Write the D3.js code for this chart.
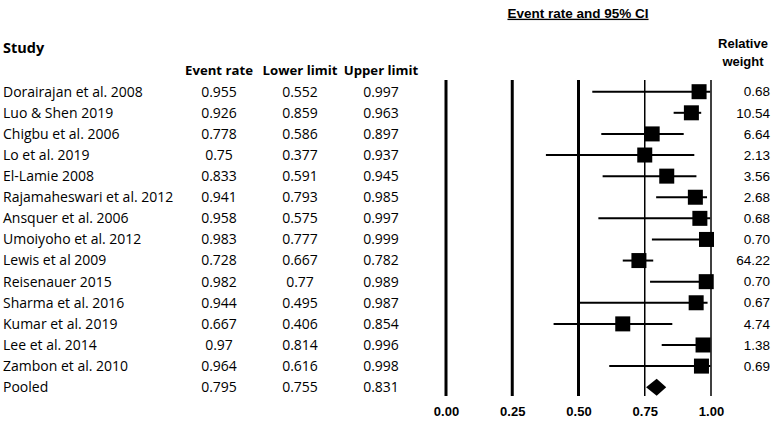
<!DOCTYPE html>
<html>
<head>
<meta charset="utf-8">
<script src="https://cdn.jsdelivr.net/npm/d3@7"></script>
<style>
  body { margin: 0; background: #fff; }
  svg { display: block; }
</style>
</head>
<body>
<div id="chart"></div>
<script>
var studies = ["Dorairajan et al. 2008", "Luo & Shen 2019", "Chigbu et al. 2006", "Lo et al. 2019",
  "El-Lamie 2008", "Rajamaheswari et al. 2012", "Ansquer et al. 2006", "Umoiyoho et al. 2012",
  "Lewis et al 2009", "Reisenauer 2015", "Sharma et al. 2016", "Kumar et al. 2019",
  "Lee et al. 2014", "Zambon et al. 2010", "Pooled"];
var eventRate  = ["0.955", "0.926", "0.778", "0.75", "0.833", "0.941", "0.958", "0.983", "0.728", "0.982", "0.944", "0.667", "0.97", "0.964", "0.795"];
var lowerLimit = ["0.552", "0.859", "0.586", "0.377", "0.591", "0.793", "0.575", "0.777", "0.667", "0.77", "0.495", "0.406", "0.814", "0.616", "0.755"];
var upperLimit = ["0.997", "0.963", "0.897", "0.937", "0.945", "0.985", "0.997", "0.999", "0.782", "0.989", "0.987", "0.854", "0.996", "0.998", "0.831"];
var relWeight  = ["0.68", "10.54", "6.64", "2.13", "3.56", "2.68", "0.68", "0.70", "64.22", "0.70", "0.67", "4.74", "1.38", "0.69", ""];
var ticks = [0, 0.25, 0.5, 0.75, 1];

var width = 777, height = 425;
var svg = d3.select("#chart").append("svg")
  .attr("width", width)
  .attr("height", height);

// rows share one y scale
var y = d3.scalePoint()
  .domain(d3.range(studies.length))
  .range([91.7, 387.2]);

var x = d3.scaleLinear()
  .domain([0, 1])
  .range([446, 711]);

var tableFont = "'Open Sans', 'Noto Sans', sans-serif";
var arial = "'Liberation Sans', Arial, sans-serif";

// left table headers
svg.append("text")
  .attr("x", 3).attr("y", 48)
  .attr("dy", "0.35em")
  .attr("font-family", tableFont)
  .attr("font-size", 14.5)
  .attr("font-weight", "bold")
  .text("Study");

var cols = [
  {label: "Event rate", x: 219, values: eventRate},
  {label: "Lower limit", x: 300, values: lowerLimit},
  {label: "Upper limit", x: 381, values: upperLimit}
];

cols.forEach(function(c) {
  svg.append("text")
    .attr("x", c.x).attr("y", 70)
    .attr("dy", "0.35em")
    .attr("text-anchor", "middle")
    .attr("font-family", tableFont)
    .attr("font-size", 13.2)
    .attr("font-weight", "bold")
    .text(c.label);

  svg.append("g").selectAll("text")
    .data(c.values)
    .enter().append("text")
      .attr("x", c.x)
      .attr("y", function(d, i) { return y(i); })
      .attr("dy", "0.35em")
      .attr("text-anchor", "middle")
      .attr("font-family", tableFont)
      .attr("font-size", 14)
      .text(function(d) { return d; });
});

// study names
svg.append("g").selectAll("text")
  .data(studies)
  .enter().append("text")
    .attr("x", 3)
    .attr("y", function(d, i) { return y(i); })
    .attr("dy", "0.35em")
    .attr("font-family", tableFont)
    .attr("font-size", 14)
    .text(function(d) { return d; });

// title over the plot
svg.append("text")
  .attr("x", 578).attr("y", 13)
  .attr("dy", "0.35em")
  .attr("text-anchor", "middle")
  .attr("font-family", arial)
  .attr("font-size", 13.5)
  .attr("font-weight", "bold")
  .attr("text-decoration", "underline")
  .text("Event rate and 95% CI");

// relative weight header
svg.append("text")
  .attr("x", 743).attr("y", 43)
  .attr("dy", "0.35em")
  .attr("text-anchor", "middle")
  .attr("font-family", arial)
  .attr("font-size", 13)
  .attr("font-weight", "bold")
  .text("Relative");
svg.append("text")
  .attr("x", 743).attr("y", 61)
  .attr("dy", "0.35em")
  .attr("text-anchor", "middle")
  .attr("font-family", arial)
  .attr("font-size", 13)
  .attr("font-weight", "bold")
  .text("weight");

svg.append("g").selectAll("text")
  .data(relWeight)
  .enter().append("text")
    .attr("x", 770)
    .attr("y", function(d, i) { return y(i); })
    .attr("dy", "0.35em")
    .attr("text-anchor", "end")
    .attr("font-family", arial)
    .attr("font-size", 13.5)
    .text(function(d) { return d; });

// vertical reference lines
svg.append("g").selectAll("line")
  .data(ticks)
  .enter().append("line")
    .attr("x1", function(d) { return x(d); })
    .attr("x2", function(d) { return x(d); })
    .attr("y1", 80)
    .attr("y2", 396)
    .attr("stroke", "#000")
    .attr("stroke-width", function(d) { return d < 0.75 ? 3 : 1.5; });

// axis labels
var xAxis = d3.axisBottom(x)
  .tickValues(ticks)
  .tickFormat(d3.format(".2f"))
  .tickSize(0)
  .tickPadding(0);

var ax = svg.append("g")
  .attr("transform", "translate(0,407)")
  .call(xAxis);
ax.select(".domain").remove();
ax.selectAll("text")
  .attr("font-family", arial)
  .attr("font-size", 13)
  .attr("font-weight", "bold")
  .attr("fill", "#000");

// study rows (everything but the pooled one)
var nStudies = studies.length - 1;
var rows = d3.range(nStudies);
var g = svg.append("g");

g.selectAll("line.ci")
  .data(rows)
  .enter().append("line")
    .attr("class", "ci")
    .attr("x1", function(i) { return x(+lowerLimit[i]); })
    .attr("x2", function(i) { return x(+upperLimit[i]); })
    .attr("y1", function(i) { return y(i); })
    .attr("y2", function(i) { return y(i); })
    .attr("stroke", "#000")
    .attr("stroke-width", 2);

var box = 15;
g.selectAll("rect")
  .data(rows)
  .enter().append("rect")
    .attr("x", function(i) { return x(+eventRate[i]) - box / 2; })
    .attr("y", function(i) { return y(i) - box / 2; })
    .attr("width", box)
    .attr("height", box)
    .attr("fill", "#000");

// pooled diamond
var p = nStudies;
var dh = 8.5;
g.append("path")
  .attr("d", "M" + x(+lowerLimit[p]) + "," + y(p) +
             "L" + x(+eventRate[p]) + "," + (y(p) - dh) +
             "L" + x(+upperLimit[p]) + "," + y(p) +
             "L" + x(+eventRate[p]) + "," + (y(p) + dh) + "Z")
  .attr("fill", "#000");
</script>
</body>
</html>
